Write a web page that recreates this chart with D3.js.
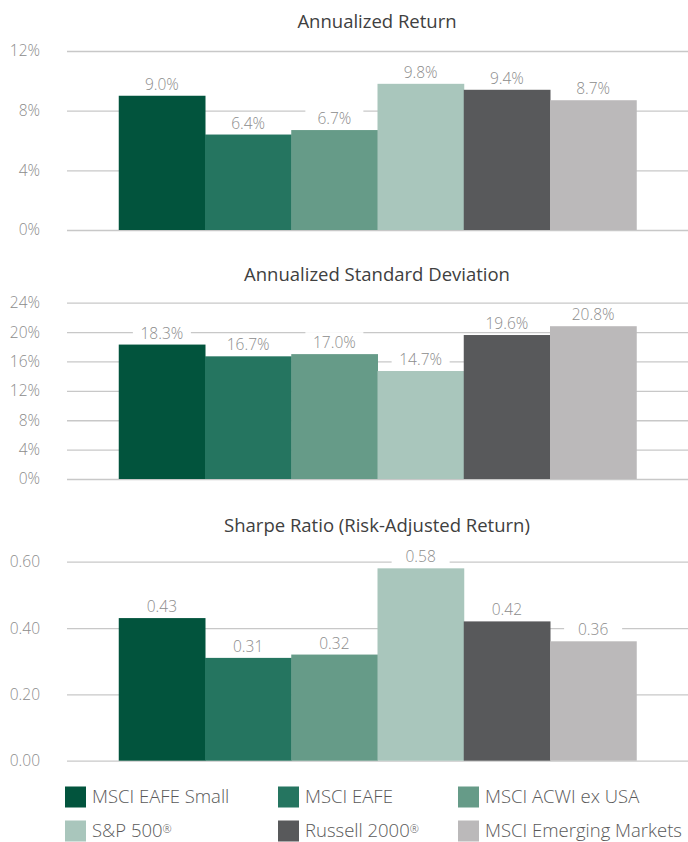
<!DOCTYPE html>
<html>
<head>
<meta charset="utf-8">
<script src="https://cdn.jsdelivr.net/npm/d3@7"></script>
<style>
  body { margin: 0; background: #fff; }
  text { font-family: "Open Sans", "Noto Sans", sans-serif; }
</style>
</head>
<body>
<div id="chart"></div>
<script>
// series (one bar each)
const series = ["MSCI EAFE Small", "MSCI EAFE", "MSCI ACWI ex USA", "S&P 500®", "Russell 2000®", "MSCI Emerging Markets"];
const colors = ["#02543d", "#257560", "#669b88", "#a9c6bc", "#58595b", "#bbb9ba"];

// values per panel
const annualizedReturn = [9.0, 6.4, 6.7, 9.8, 9.4, 8.7];
const annualizedStdDev = [18.3, 16.7, 17.0, 14.7, 19.6, 20.8];
const sharpeRatio = [0.43, 0.31, 0.32, 0.58, 0.42, 0.36];

// tick labels
const returnTicks = [0, 4, 8, 12];
const stdDevTicks = [0, 4, 8, 12, 16, 20, 24];
const sharpeTicks = [0, 0.2, 0.4, 0.6];

const W = 688, H = 842;

const panels = [
  {title: "Annualized Return", values: annualizedReturn, ticks: returnTicks,
   fmtTick: d => d + "%", fmtVal: d => d.toFixed(1) + "%", top: 51, bottom: 230, titleY: 22},
  {title: "Annualized Standard Deviation", values: annualizedStdDev, ticks: stdDevTicks,
   fmtTick: d => d + "%", fmtVal: d => d.toFixed(1) + "%", top: 302.7, bottom: 479, titleY: 275},
  {title: "Sharpe Ratio (Risk-Adjusted Return)", values: sharpeRatio, ticks: sharpeTicks,
   fmtTick: d => d.toFixed(2), fmtVal: d => d.toFixed(2), top: 561.7, bottom: 760.7, titleY: 526}
];

const svg = d3.select("#chart").append("svg")
    .attr("width", W)
    .attr("height", H);

const gridLeft = 67, gridRight = 688;

// x scale shared by all panels
const x = d3.scaleBand()
    .domain(series)
    .range([gridLeft, gridRight])
    .paddingInner(0)
    .paddingOuter(0.6);

panels.forEach(function(p) {
  const maxTick = p.ticks[p.ticks.length - 1];
  const y = d3.scaleLinear().domain([0, maxTick]).range([p.bottom, p.top]);
  const g = svg.append("g");

  //title
  g.append("text")
    .attr("x", 377)
    .attr("y", p.titleY)
    .attr("dy", "0.35em")
    .attr("text-anchor", "middle")
    .style("font-size", "18.5px")
    .style("fill", "#404040")
    .text(p.title);

  //grid lines + tick labels
  const axis = d3.axisLeft(y).tickValues(p.ticks).tickFormat(p.fmtTick)
    .tickSize(-(gridRight - gridLeft)).tickPadding(27);
  const ag = g.append("g")
    .attr("transform", "translate(" + gridLeft + ",0)")
    .call(axis);
  ag.select(".domain").remove();
  ag.selectAll(".tick line").style("stroke", "#c8c8c8").style("stroke-width", "1.3px");
  ag.selectAll(".tick text")
    .style("font-size", "15.5px")
    .style("font-weight", 300)
    .style("fill", "#8c8c8c")
    .style("font-family", '"Open Sans", "Noto Sans", sans-serif');

  //bars
  g.selectAll(".bar")
    .data(p.values)
    .enter().append("rect")
      .attr("class", "bar")
      .attr("x", (d, i) => x(series[i]))
      .attr("width", x.bandwidth() + 0.5)
      .attr("y", d => y(d))
      .attr("height", d => p.bottom - y(d))
      .style("fill", (d, i) => colors[i]);

  //value labels with white backing
  const lbl = g.selectAll(".val")
    .data(p.values)
    .enter().append("g")
      .attr("class", "val")
      .attr("transform", (d, i) => "translate(" + (x(series[i]) + x.bandwidth() / 2) + "," + (y(d) - 6) + ")");
  lbl.append("rect")
    .attr("x", -29)
    .attr("y", -16)
    .attr("width", 58)
    .attr("height", 18)
    .style("fill", "#fff");
  lbl.append("text")
    .attr("text-anchor", "middle")
    .style("font-size", "15.5px")
    .style("font-weight", 300)
    .style("fill", "#8c8c8c")
    .text(d => p.fmtVal(d));
});

//legend
const legX = [65, 278, 458];
const legY = [797, 831];
const leg = svg.selectAll(".legend")
  .data(series)
  .enter().append("g")
    .attr("class", "legend")
    .attr("transform", (d, i) => "translate(" + legX[i % 3] + "," + legY[Math.floor(i / 3)] + ")");
leg.append("rect")
  .attr("x", 0)
  .attr("y", -10.5)
  .attr("width", 21)
  .attr("height", 21)
  .style("fill", (d, i) => colors[i]);
const legText = leg.append("text")
  .attr("x", 27)
  .attr("dy", "0.35em")
  .style("font-size", "18.5px")
  .style("font-weight", 300)
  .style("fill", "#595959");
// small raised ® like the original
legText.each(function(d) {
  const t = d3.select(this);
  const parts = d.split("®");
  t.append("tspan").text(parts[0]);
  if (parts.length > 1) {
    t.append("tspan")
      .attr("dy", "-0.45em")
      .style("font-size", "11px")
      .text("®");
  }
});
</script>
</body>
</html>
